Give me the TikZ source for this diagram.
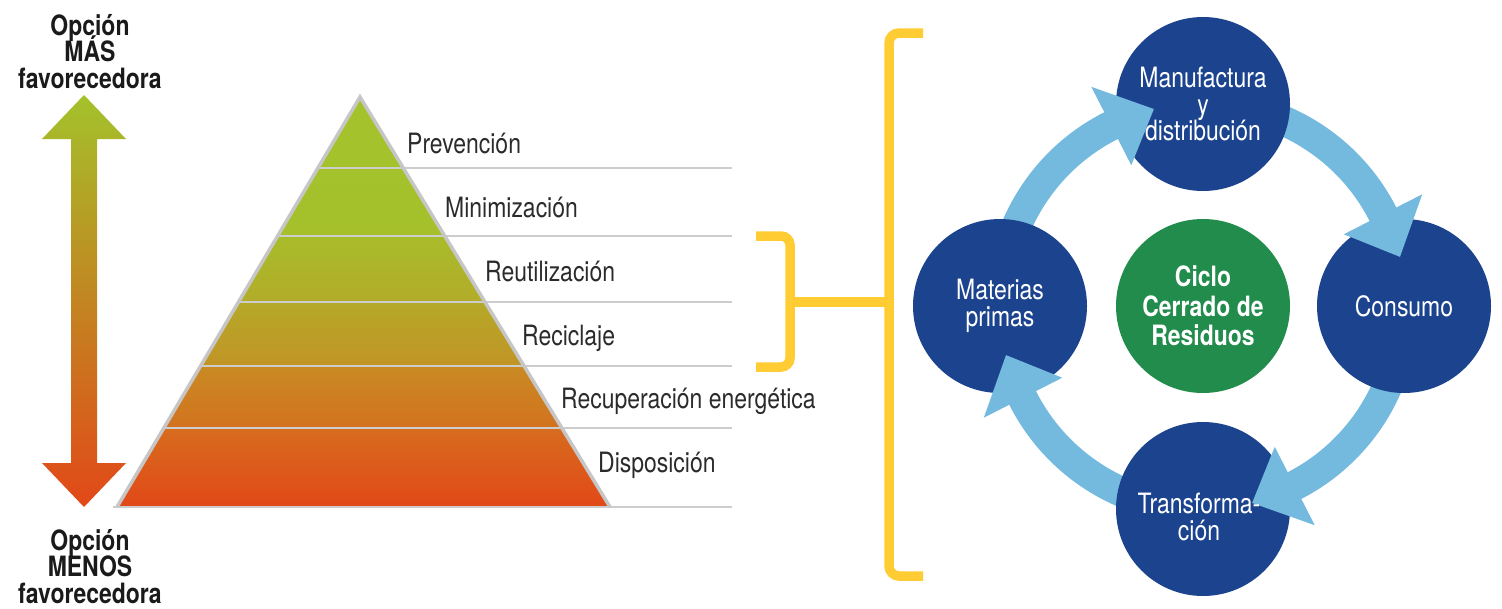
\documentclass[tikz,border=0pt]{standalone}
\usepackage{fontspec}
\setmainfont{TeX Gyre Heros}[FakeStretch=0.82]
\usetikzlibrary{calc}
\definecolor{pg1}{HTML}{A3C22B}
\definecolor{pg2}{HTML}{A5C02B}
\definecolor{pg3}{HTML}{A8BC2A}
\definecolor{pg4}{HTML}{B3AC29}
\definecolor{pg5}{HTML}{B5A928}
\definecolor{pg6}{HTML}{C19426}
\definecolor{pg7}{HTML}{C98A23}
\definecolor{pg8}{HTML}{D3721F}
\definecolor{pg9}{HTML}{D76C1E}
\definecolor{pg10}{HTML}{E24818}
\definecolor{amid}{HTML}{C29A2A}
\definecolor{labgray}{HTML}{2B2B2B}
\definecolor{sepgray}{HTML}{CDCDCD}
\definecolor{outgray}{HTML}{C6C6C6}
\definecolor{byellow}{HTML}{FFCC33}
\definecolor{lblue}{HTML}{74B9DE}
\definecolor{cblue}{HTML}{1B438E}
\definecolor{cgreen}{HTML}{218C4C}
\definecolor{sideblack}{HTML}{1A1A1A}
\newcommand{\regfont}{\fontsize{28}{26.5}\selectfont}
\newcommand{\sidefont}{\bfseries\fontsize{28}{26.5}\selectfont}
\newcommand{\ciclofont}{\bfseries\fontsize{28}{29.5}\selectfont}
\tikzset{
  lab/.style={font=\regfont, text=labgray, inner sep=0},
  side/.style={font=\sidefont, align=center, inner sep=0, text=sideblack},
  sepline/.style={draw=sepgray, line width=2},
  outl/.style={draw=outgray, line width=3.5, line join=miter},
  brk/.style={draw=byellow, line width=9.5},
  band/.style={draw=lblue, line width=30},
  headc/.style={fill=lblue},
  bcirc/.style={circle, fill=cblue, minimum size=174, inner sep=0},
  gcirc/.style={circle, fill=cgreen, minimum size=174, inner sep=0},
  ctext/.style={text=white, align=center, inner sep=0, font=\regfont},
  cbold/.style={text=white, align=center, inner sep=0, font=\ciclofont},
}
\begin{document}
\lineskiplimit=-100pt\relax
\lineskip=0pt\relax
\begin{tikzpicture}[x=1pt,y=-1pt]
\useasboundingbox (0,0) rectangle (1502,608);

% left double arrow
\shade[top color=pg1, middle color=amid, bottom color=pg10]
  (84,95) -- (126,139) -- (97,139) -- (97,463) -- (126,463) -- (84,507)
  -- (42,463) -- (71,463) -- (71,139) -- (42,139) -- cycle;

\node[side, anchor=north] (mas) at (90,14) {\rule{0pt}{21pt}Opción\\MÁS\\favorecedora};
\node[side, anchor=north] (menos) at (90,529) {\rule{0pt}{21pt}Opción\\MENOS\\favorecedora};

% pyramid bands
\fill[pg1] (360,97) -- (403.3,168) -- (317.9,168) -- cycle;
\shade[top color=pg1, bottom color=pg2] (317.9,168) -- (403.3,168) -- (444.8,236) -- (277.6,236) -- cycle;
\shade[top color=pg3, bottom color=pg4] (277.6,236) -- (444.8,236) -- (485,302) -- (238.5,302) -- cycle;
\shade[top color=pg5, bottom color=pg6] (238.5,302) -- (485,302) -- (524,366) -- (200.6,366) -- cycle;
\shade[top color=pg7, bottom color=pg8] (200.6,366) -- (524,366) -- (561.8,428) -- (163.8,428) -- cycle;
\shade[top color=pg9, bottom color=pg10] (163.8,428) -- (561.8,428) -- (610,507) -- (117,507) -- cycle;

% level lines
\draw[sepline] (317.9,168) -- (732,168);
\draw[sepline] (277.6,236) -- (732,236);
\draw[sepline] (238.5,302) -- (732,302);
\draw[sepline] (200.6,366) -- (732,366);
\draw[sepline] (163.8,428) -- (732,428);
\draw[sepline] (113,507) -- (732,507);
\draw[outl] (117,507) -- (360,97) -- (610,507);

% level labels
\node[lab, anchor=base west] (l1) at (407,153) {Prevención};
\node[lab, anchor=base west] (l2) at (445,217) {Minimización};
\node[lab, anchor=base west] (l3) at (485,281) {Reutilización};
\node[lab, anchor=base west] (l4) at (522,345) {Reciclaje};
\node[lab, anchor=base west] (l5) at (561,408) {Recuperación energética};
\node[lab, anchor=base west] (l6) at (598,472) {Disposición};

% brackets
\draw[brk, rounded corners=9] (756,236) -- (790,236) -- (790,367) -- (756,367);
\draw[brk] (790,302) -- (889,302);
\draw[brk, rounded corners=10] (923,33) -- (889,33) -- (889,576) -- (923,576);

% cycle
\coordinate (C) at (1203,306);
\coordinate (matp) at (1000,306);
\coordinate (manp) at (1203,104);
\coordinate (conp) at (1404,306);
\coordinate (trap) at (1203,509);

\draw[band] (matp) arc[start angle=180, end angle=246, radius=202];
\draw[band] (manp) arc[start angle=270, end angle=336, radius=202];
\draw[band] (conp) arc[start angle=0, end angle=66, radius=202];
\draw[band] (trap) arc[start angle=90, end angle=156, radius=202];

\node[bcirc] (man) at (manp) {};
\node[bcirc] (mat) at (matp) {};
\node[bcirc] (con) at (conp) {};
\node[bcirc] (tra) at (trap) {};
\node[gcirc] (cic) at (C) {};

\fill[headc] ($(C)+(243:158)$) -- ($(C)+(256:203)$) -- ($(C)+(243:246)$) -- cycle;
\fill[headc] ($(C)+(333:158)$) -- ($(C)+(346:203)$) -- ($(C)+(333:246)$) -- cycle;
\fill[headc] ($(C)+(63:158)$) -- ($(C)+(76:203)$) -- ($(C)+(63:246)$) -- cycle;
\fill[headc] ($(C)+(153:158)$) -- ($(C)+(166:203)$) -- ($(C)+(153:246)$) -- cycle;

\node[ctext] (mant) at (man) {Manufactura\\y\\distribución};
\node[ctext] (matt) at (mat) {Materias\\primas};
\node[ctext] (cont) at (con) {Consumo};
\node[ctext] (trat) at ($(tra)+(-4,8)$) {Transforma-\\ción};
\node[cbold] (cict) at (cic) {Ciclo\\Cerrado de\\Residuos};
\end{tikzpicture}
\end{document}
